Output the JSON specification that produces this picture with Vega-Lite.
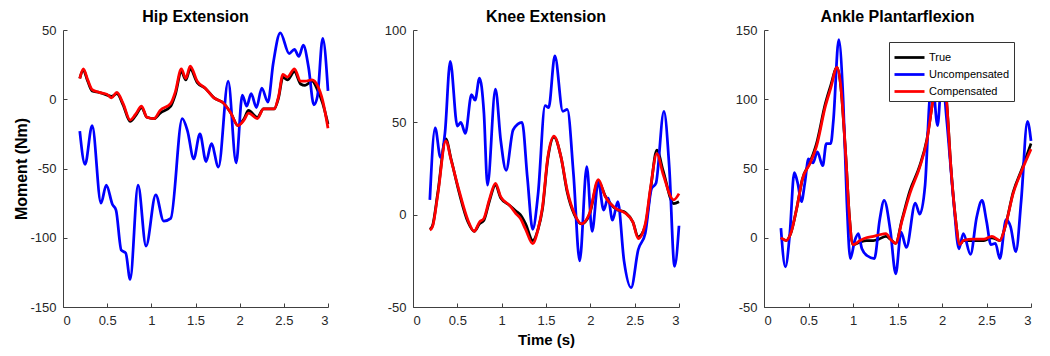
{
"$schema": "https://vega.github.io/schema/vega-lite/v6.json",
"padding": {"left": 13, "top": 9, "right": 5, "bottom": 5},
"spacing": 85,
"bounds": "flush",
"config": {
  "view": {"stroke": null},
  "font": "Liberation Sans",
  "axis": {"grid": false, "domainColor": "#404040", "tickColor": "#404040", "labelColor": "#262626", "labelFontSize": 13, "tickSize": -4, "labelPadding": 11, "titleFontSize": 16, "titleFontWeight": "bold", "titleColor": "#000000", "domainWidth": 1, "tickWidth": 1},
  "title": {"fontSize": 16, "fontWeight": "bold", "offset": -1, "color": "#000000", "anchor": "middle"},
  "line": {"strokeWidth": 2.75, "interpolate": "monotone"}
},
"resolve": {"scale": {"color": "independent"}, "legend": {"color": "independent"}},
"datasets": {
"hip": [
{"s":"True","t":0.19,"v":15},{"s":"True","t":0.23,"v":21},{"s":"True","t":0.28,"v":13},{"s":"True","t":0.33,"v":6},{"s":"True","t":0.41,"v":5},{"s":"True","t":0.5,"v":3},{"s":"True","t":0.55,"v":2},{"s":"True","t":0.61,"v":4},{"s":"True","t":0.68,"v":-4},{"s":"True","t":0.76,"v":-16},{"s":"True","t":0.82,"v":-12},{"s":"True","t":0.89,"v":-6},{"s":"True","t":0.95,"v":-13},{"s":"True","t":1.03,"v":-14},{"s":"True","t":1.1,"v":-10},{"s":"True","t":1.22,"v":-5},{"s":"True","t":1.27,"v":3},{"s":"True","t":1.34,"v":20},{"s":"True","t":1.39,"v":14},{"s":"True","t":1.44,"v":22},{"s":"True","t":1.52,"v":12},{"s":"True","t":1.61,"v":8},{"s":"True","t":1.71,"v":1},{"s":"True","t":1.82,"v":-3},{"s":"True","t":1.9,"v":-10},{"s":"True","t":1.98,"v":-19},{"s":"True","t":2.05,"v":-14},{"s":"True","t":2.1,"v":-8},{"s":"True","t":2.2,"v":-13},{"s":"True","t":2.27,"v":-7},{"s":"True","t":2.39,"v":-7},{"s":"True","t":2.44,"v":1},{"s":"True","t":2.49,"v":16},{"s":"True","t":2.54,"v":14},{"s":"True","t":2.62,"v":20},{"s":"True","t":2.69,"v":11},{"s":"True","t":2.74,"v":10},{"s":"True","t":2.82,"v":13},{"s":"True","t":2.88,"v":7},{"s":"True","t":2.94,"v":-3},{"s":"True","t":3.0,"v":-18},
{"s":"Uncompensated","t":0.19,"v":-23},{"s":"Uncompensated","t":0.25,"v":-47},{"s":"Uncompensated","t":0.33,"v":-19},{"s":"Uncompensated","t":0.43,"v":-75},{"s":"Uncompensated","t":0.49,"v":-62},{"s":"Uncompensated","t":0.56,"v":-76},{"s":"Uncompensated","t":0.6,"v":-80},{"s":"Uncompensated","t":0.66,"v":-109},{"s":"Uncompensated","t":0.71,"v":-111},{"s":"Uncompensated","t":0.76,"v":-130},{"s":"Uncompensated","t":0.85,"v":-62},{"s":"Uncompensated","t":0.94,"v":-106},{"s":"Uncompensated","t":1.05,"v":-69},{"s":"Uncompensated","t":1.14,"v":-88},{"s":"Uncompensated","t":1.22,"v":-86},{"s":"Uncompensated","t":1.35,"v":-14},{"s":"Uncompensated","t":1.41,"v":-23},{"s":"Uncompensated","t":1.48,"v":-43},{"s":"Uncompensated","t":1.55,"v":-25},{"s":"Uncompensated","t":1.62,"v":-45},{"s":"Uncompensated","t":1.68,"v":-32},{"s":"Uncompensated","t":1.76,"v":-49},{"s":"Uncompensated","t":1.87,"v":13},{"s":"Uncompensated","t":1.96,"v":-46},{"s":"Uncompensated","t":2.03,"v":3},{"s":"Uncompensated","t":2.08,"v":-5},{"s":"Uncompensated","t":2.13,"v":4},{"s":"Uncompensated","t":2.19,"v":-6},{"s":"Uncompensated","t":2.25,"v":8},{"s":"Uncompensated","t":2.32,"v":-2},{"s":"Uncompensated","t":2.38,"v":26},{"s":"Uncompensated","t":2.46,"v":48},{"s":"Uncompensated","t":2.56,"v":33},{"s":"Uncompensated","t":2.62,"v":36},{"s":"Uncompensated","t":2.67,"v":31},{"s":"Uncompensated","t":2.72,"v":39},{"s":"Uncompensated","t":2.78,"v":23},{"s":"Uncompensated","t":2.84,"v":-4},{"s":"Uncompensated","t":2.88,"v":2},{"s":"Uncompensated","t":2.94,"v":44},{"s":"Uncompensated","t":3.0,"v":6},
{"s":"Compensated","t":0.19,"v":15},{"s":"Compensated","t":0.23,"v":22},{"s":"Compensated","t":0.28,"v":14},{"s":"Compensated","t":0.33,"v":7},{"s":"Compensated","t":0.41,"v":5},{"s":"Compensated","t":0.5,"v":3.5},{"s":"Compensated","t":0.55,"v":1},{"s":"Compensated","t":0.61,"v":5},{"s":"Compensated","t":0.68,"v":-3},{"s":"Compensated","t":0.76,"v":-15},{"s":"Compensated","t":0.82,"v":-11},{"s":"Compensated","t":0.89,"v":-5},{"s":"Compensated","t":0.95,"v":-13},{"s":"Compensated","t":1.03,"v":-14},{"s":"Compensated","t":1.1,"v":-8},{"s":"Compensated","t":1.22,"v":-3},{"s":"Compensated","t":1.27,"v":5},{"s":"Compensated","t":1.34,"v":22},{"s":"Compensated","t":1.39,"v":15},{"s":"Compensated","t":1.44,"v":24},{"s":"Compensated","t":1.52,"v":13},{"s":"Compensated","t":1.61,"v":8},{"s":"Compensated","t":1.71,"v":1},{"s":"Compensated","t":1.82,"v":-3},{"s":"Compensated","t":1.9,"v":-10},{"s":"Compensated","t":1.98,"v":-19},{"s":"Compensated","t":2.05,"v":-15},{"s":"Compensated","t":2.1,"v":-10},{"s":"Compensated","t":2.2,"v":-14},{"s":"Compensated","t":2.27,"v":-7},{"s":"Compensated","t":2.39,"v":-7},{"s":"Compensated","t":2.44,"v":2},{"s":"Compensated","t":2.49,"v":18},{"s":"Compensated","t":2.54,"v":16},{"s":"Compensated","t":2.62,"v":22},{"s":"Compensated","t":2.69,"v":13},{"s":"Compensated","t":2.74,"v":13},{"s":"Compensated","t":2.82,"v":14},{"s":"Compensated","t":2.88,"v":10},{"s":"Compensated","t":2.94,"v":-1},{"s":"Compensated","t":3.0,"v":-21}
],
"knee": [
{"s":"True","t":0.19,"v":-8},{"s":"True","t":0.22,"v":-6},{"s":"True","t":0.28,"v":12},{"s":"True","t":0.37,"v":41},{"s":"True","t":0.43,"v":30},{"s":"True","t":0.52,"v":12},{"s":"True","t":0.62,"v":-4},{"s":"True","t":0.69,"v":-9},{"s":"True","t":0.75,"v":-5},{"s":"True","t":0.8,"v":-3},{"s":"True","t":0.86,"v":7},{"s":"True","t":0.93,"v":16},{"s":"True","t":0.99,"v":9},{"s":"True","t":1.09,"v":5},{"s":"True","t":1.16,"v":2},{"s":"True","t":1.21,"v":0},{"s":"True","t":1.27,"v":-5},{"s":"True","t":1.35,"v":-14},{"s":"True","t":1.41,"v":-8},{"s":"True","t":1.46,"v":3},{"s":"True","t":1.52,"v":30},{"s":"True","t":1.59,"v":42},{"s":"True","t":1.67,"v":31},{"s":"True","t":1.74,"v":12},{"s":"True","t":1.82,"v":0},{"s":"True","t":1.9,"v":-5},{"s":"True","t":1.99,"v":0},{"s":"True","t":2.09,"v":18},{"s":"True","t":2.17,"v":10},{"s":"True","t":2.29,"v":3},{"s":"True","t":2.4,"v":1},{"s":"True","t":2.48,"v":-4},{"s":"True","t":2.54,"v":-12},{"s":"True","t":2.62,"v":-6},{"s":"True","t":2.68,"v":14},{"s":"True","t":2.75,"v":35},{"s":"True","t":2.82,"v":24},{"s":"True","t":2.94,"v":6},{"s":"True","t":3.0,"v":7},
{"s":"Uncompensated","t":0.19,"v":8},{"s":"Uncompensated","t":0.25,"v":47},{"s":"Uncompensated","t":0.31,"v":31},{"s":"Uncompensated","t":0.36,"v":44},{"s":"Uncompensated","t":0.42,"v":83},{"s":"Uncompensated","t":0.5,"v":48},{"s":"Uncompensated","t":0.54,"v":50},{"s":"Uncompensated","t":0.59,"v":44},{"s":"Uncompensated","t":0.66,"v":65},{"s":"Uncompensated","t":0.7,"v":62},{"s":"Uncompensated","t":0.75,"v":74},{"s":"Uncompensated","t":0.8,"v":55},{"s":"Uncompensated","t":0.84,"v":16},{"s":"Uncompensated","t":0.93,"v":68},{"s":"Uncompensated","t":0.99,"v":40},{"s":"Uncompensated","t":1.05,"v":24},{"s":"Uncompensated","t":1.13,"v":46},{"s":"Uncompensated","t":1.23,"v":50},{"s":"Uncompensated","t":1.29,"v":20},{"s":"Uncompensated","t":1.35,"v":-8},{"s":"Uncompensated","t":1.41,"v":11},{"s":"Uncompensated","t":1.49,"v":59},{"s":"Uncompensated","t":1.53,"v":58},{"s":"Uncompensated","t":1.6,"v":86},{"s":"Uncompensated","t":1.69,"v":56},{"s":"Uncompensated","t":1.74,"v":57},{"s":"Uncompensated","t":1.81,"v":22},{"s":"Uncompensated","t":1.88,"v":-25},{"s":"Uncompensated","t":1.96,"v":26},{"s":"Uncompensated","t":2.02,"v":-9},{"s":"Uncompensated","t":2.09,"v":18},{"s":"Uncompensated","t":2.15,"v":2.5},{"s":"Uncompensated","t":2.2,"v":9},{"s":"Uncompensated","t":2.25,"v":-3},{"s":"Uncompensated","t":2.31,"v":7},{"s":"Uncompensated","t":2.38,"v":-25},{"s":"Uncompensated","t":2.46,"v":-39.5},{"s":"Uncompensated","t":2.54,"v":-19},{"s":"Uncompensated","t":2.62,"v":-10},{"s":"Uncompensated","t":2.69,"v":14},{"s":"Uncompensated","t":2.74,"v":17},{"s":"Uncompensated","t":2.83,"v":56},{"s":"Uncompensated","t":2.89,"v":26},{"s":"Uncompensated","t":2.95,"v":-28},{"s":"Uncompensated","t":3.0,"v":-6},
{"s":"Compensated","t":0.19,"v":-8.4},{"s":"Compensated","t":0.22,"v":-6.6},{"s":"Compensated","t":0.28,"v":11},{"s":"Compensated","t":0.37,"v":40},{"s":"Compensated","t":0.43,"v":29.5},{"s":"Compensated","t":0.52,"v":13},{"s":"Compensated","t":0.62,"v":-3},{"s":"Compensated","t":0.69,"v":-9},{"s":"Compensated","t":0.75,"v":-4},{"s":"Compensated","t":0.8,"v":-2},{"s":"Compensated","t":0.86,"v":8},{"s":"Compensated","t":0.93,"v":17},{"s":"Compensated","t":0.99,"v":9.6},{"s":"Compensated","t":1.09,"v":5},{"s":"Compensated","t":1.16,"v":0.6},{"s":"Compensated","t":1.21,"v":-2},{"s":"Compensated","t":1.27,"v":-8},{"s":"Compensated","t":1.35,"v":-15.7},{"s":"Compensated","t":1.41,"v":-8},{"s":"Compensated","t":1.46,"v":4},{"s":"Compensated","t":1.52,"v":31},{"s":"Compensated","t":1.59,"v":42.5},{"s":"Compensated","t":1.67,"v":31},{"s":"Compensated","t":1.74,"v":13},{"s":"Compensated","t":1.82,"v":0.6},{"s":"Compensated","t":1.9,"v":-5},{"s":"Compensated","t":1.99,"v":0.6},{"s":"Compensated","t":2.09,"v":19},{"s":"Compensated","t":2.17,"v":9.6},{"s":"Compensated","t":2.29,"v":3.3},{"s":"Compensated","t":2.4,"v":0.6},{"s":"Compensated","t":2.48,"v":-4},{"s":"Compensated","t":2.54,"v":-13},{"s":"Compensated","t":2.62,"v":-5},{"s":"Compensated","t":2.68,"v":15},{"s":"Compensated","t":2.75,"v":33},{"s":"Compensated","t":2.82,"v":22},{"s":"Compensated","t":2.94,"v":8},{"s":"Compensated","t":3.0,"v":11.4}
],
"ankle": [
{"s":"True","t":0.19,"v":0},{"s":"True","t":0.25,"v":-2},{"s":"True","t":0.3,"v":3},{"s":"True","t":0.37,"v":22},{"s":"True","t":0.43,"v":42},{"s":"True","t":0.52,"v":55},{"s":"True","t":0.59,"v":68},{"s":"True","t":0.69,"v":97},{"s":"True","t":0.75,"v":110},{"s":"True","t":0.82,"v":123},{"s":"True","t":0.86,"v":111},{"s":"True","t":0.92,"v":58},{"s":"True","t":0.96,"v":15},{"s":"True","t":1.0,"v":-5},{"s":"True","t":1.08,"v":-3},{"s":"True","t":1.15,"v":-2},{"s":"True","t":1.23,"v":-2},{"s":"True","t":1.29,"v":-1},{"s":"True","t":1.37,"v":1},{"s":"True","t":1.42,"v":-1},{"s":"True","t":1.48,"v":-4},{"s":"True","t":1.55,"v":13},{"s":"True","t":1.64,"v":34},{"s":"True","t":1.75,"v":52},{"s":"True","t":1.83,"v":71},{"s":"True","t":1.9,"v":100},{"s":"True","t":1.98,"v":125},{"s":"True","t":2.05,"v":100},{"s":"True","t":2.1,"v":51},{"s":"True","t":2.15,"v":15},{"s":"True","t":2.2,"v":-5},{"s":"True","t":2.24,"v":-2},{"s":"True","t":2.35,"v":-2},{"s":"True","t":2.47,"v":-2},{"s":"True","t":2.56,"v":0},{"s":"True","t":2.65,"v":-2},{"s":"True","t":2.71,"v":8},{"s":"True","t":2.8,"v":33},{"s":"True","t":2.9,"v":50},{"s":"True","t":3.0,"v":68},
{"s":"Uncompensated","t":0.19,"v":7},{"s":"Uncompensated","t":0.24,"v":-21},{"s":"Uncompensated","t":0.29,"v":3},{"s":"Uncompensated","t":0.34,"v":47},{"s":"Uncompensated","t":0.38,"v":39},{"s":"Uncompensated","t":0.42,"v":26},{"s":"Uncompensated","t":0.46,"v":40},{"s":"Uncompensated","t":0.5,"v":57},{"s":"Uncompensated","t":0.55,"v":54},{"s":"Uncompensated","t":0.6,"v":62},{"s":"Uncompensated","t":0.66,"v":52},{"s":"Uncompensated","t":0.7,"v":68},{"s":"Uncompensated","t":0.75,"v":68},{"s":"Uncompensated","t":0.78,"v":85},{"s":"Uncompensated","t":0.84,"v":143},{"s":"Uncompensated","t":0.89,"v":99},{"s":"Uncompensated","t":0.93,"v":27},{"s":"Uncompensated","t":0.97,"v":-15},{"s":"Uncompensated","t":1.02,"v":-2},{"s":"Uncompensated","t":1.06,"v":3},{"s":"Uncompensated","t":1.1,"v":-8},{"s":"Uncompensated","t":1.16,"v":-13},{"s":"Uncompensated","t":1.24,"v":-15},{"s":"Uncompensated","t":1.3,"v":13},{"s":"Uncompensated","t":1.35,"v":27},{"s":"Uncompensated","t":1.42,"v":5},{"s":"Uncompensated","t":1.48,"v":-26},{"s":"Uncompensated","t":1.54,"v":4},{"s":"Uncompensated","t":1.6,"v":-7},{"s":"Uncompensated","t":1.7,"v":25},{"s":"Uncompensated","t":1.75,"v":17},{"s":"Uncompensated","t":1.81,"v":38},{"s":"Uncompensated","t":1.86,"v":99},{"s":"Uncompensated","t":1.89,"v":115},{"s":"Uncompensated","t":1.95,"v":81},{"s":"Uncompensated","t":2.0,"v":118},{"s":"Uncompensated","t":2.05,"v":87},{"s":"Uncompensated","t":2.13,"v":27},{"s":"Uncompensated","t":2.19,"v":-8},{"s":"Uncompensated","t":2.24,"v":3},{"s":"Uncompensated","t":2.32,"v":-12},{"s":"Uncompensated","t":2.39,"v":15},{"s":"Uncompensated","t":2.45,"v":27},{"s":"Uncompensated","t":2.5,"v":12},{"s":"Uncompensated","t":2.55,"v":-5},{"s":"Uncompensated","t":2.6,"v":-4},{"s":"Uncompensated","t":2.65,"v":-15},{"s":"Uncompensated","t":2.72,"v":13},{"s":"Uncompensated","t":2.77,"v":8},{"s":"Uncompensated","t":2.83,"v":-10},{"s":"Uncompensated","t":2.89,"v":27},{"s":"Uncompensated","t":2.96,"v":84},{"s":"Uncompensated","t":3.0,"v":70},
{"s":"Compensated","t":0.19,"v":0},{"s":"Compensated","t":0.25,"v":-2},{"s":"Compensated","t":0.3,"v":3},{"s":"Compensated","t":0.37,"v":22},{"s":"Compensated","t":0.43,"v":42},{"s":"Compensated","t":0.52,"v":54},{"s":"Compensated","t":0.59,"v":66},{"s":"Compensated","t":0.69,"v":95},{"s":"Compensated","t":0.75,"v":108},{"s":"Compensated","t":0.82,"v":123},{"s":"Compensated","t":0.86,"v":111},{"s":"Compensated","t":0.92,"v":58},{"s":"Compensated","t":0.96,"v":15},{"s":"Compensated","t":1.0,"v":-5},{"s":"Compensated","t":1.08,"v":-2},{"s":"Compensated","t":1.15,"v":0},{"s":"Compensated","t":1.23,"v":1},{"s":"Compensated","t":1.29,"v":2},{"s":"Compensated","t":1.37,"v":3},{"s":"Compensated","t":1.42,"v":-1},{"s":"Compensated","t":1.48,"v":-4},{"s":"Compensated","t":1.55,"v":12},{"s":"Compensated","t":1.64,"v":32},{"s":"Compensated","t":1.75,"v":51},{"s":"Compensated","t":1.83,"v":70},{"s":"Compensated","t":1.9,"v":100},{"s":"Compensated","t":1.98,"v":125},{"s":"Compensated","t":2.05,"v":100},{"s":"Compensated","t":2.1,"v":51},{"s":"Compensated","t":2.15,"v":15},{"s":"Compensated","t":2.2,"v":-5},{"s":"Compensated","t":2.24,"v":-2},{"s":"Compensated","t":2.35,"v":-1},{"s":"Compensated","t":2.47,"v":-1},{"s":"Compensated","t":2.56,"v":1},{"s":"Compensated","t":2.65,"v":-2},{"s":"Compensated","t":2.71,"v":8},{"s":"Compensated","t":2.8,"v":32},{"s":"Compensated","t":2.9,"v":49},{"s":"Compensated","t":3.0,"v":64}
]
},
"hconcat": [
{
 "width": 265, "height": 277,
 "title": "Hip Extension",
 "data": {"name": "hip"},
 "mark": {"type": "line"},
 "encoding": {
  "x": {"field": "t", "type": "quantitative", "scale": {"domain": [0, 3], "nice": false}, "axis": {"values": [0, 0.5, 1, 1.5, 2, 2.5, 3], "labelExpr": "'' + datum.value", "title": null}},
  "y": {"field": "v", "type": "quantitative", "scale": {"domain": [-150, 50], "nice": false, "zero": false}, "axis": {"values": [-150, -100, -50, 0, 50], "labelExpr": "'' + datum.value", "title": "Moment (Nm)", "titlePadding": 0}},
  "color": {"field": "s", "type": "nominal", "scale": {"domain": ["True", "Uncompensated", "Compensated"], "range": ["#000000", "#0000ff", "#ff0000"]}, "legend": null}
 }
},
{
 "width": 266, "height": 277,
 "title": "Knee Extension",
 "data": {"name": "knee"},
 "mark": {"type": "line"},
 "encoding": {
  "x": {"field": "t", "type": "quantitative", "scale": {"domain": [0, 3], "nice": false}, "axis": {"values": [0, 0.5, 1, 1.5, 2, 2.5, 3], "labelExpr": "'' + datum.value", "title": "Time (s)", "titleFontSize": 15, "titlePadding": 5}},
  "y": {"field": "v", "type": "quantitative", "scale": {"domain": [-50, 100], "nice": false, "zero": false}, "axis": {"values": [-50, 0, 50, 100], "labelExpr": "'' + datum.value", "title": null}},
  "color": {"field": "s", "type": "nominal", "scale": {"domain": ["True", "Uncompensated", "Compensated"], "range": ["#000000", "#0000ff", "#ff0000"]}, "legend": null}
 }
},
{
 "width": 267, "height": 277,
 "title": "Ankle Plantarflexion",
 "data": {"name": "ankle"},
 "mark": {"type": "line"},
 "encoding": {
  "x": {"field": "t", "type": "quantitative", "scale": {"domain": [0, 3], "nice": false}, "axis": {"values": [0, 0.5, 1, 1.5, 2, 2.5, 3], "labelExpr": "'' + datum.value", "title": null}},
  "y": {"field": "v", "type": "quantitative", "scale": {"domain": [-50, 150], "nice": false, "zero": false}, "axis": {"values": [-50, 0, 50, 100, 150], "labelExpr": "'' + datum.value", "title": null}},
  "color": {"field": "s", "type": "nominal", "scale": {"domain": ["True", "Uncompensated", "Compensated"], "range": ["#000000", "#0000ff", "#ff0000"]},
   "legend": {"orient": "none", "legendX": 125, "legendY": 12, "title": null, "direction": "vertical", "fillColor": "#ffffff", "strokeColor": "#333333", "padding": 4, "symbolType": "M-1,0H2", "symbolSize": 400, "symbolStrokeWidth": 3, "symbolFillColor": "transparent", "labelFontSize": 11, "labelColor": "#000000", "labelOffset": 13, "rowPadding": 0}}
 }
}
]
}
